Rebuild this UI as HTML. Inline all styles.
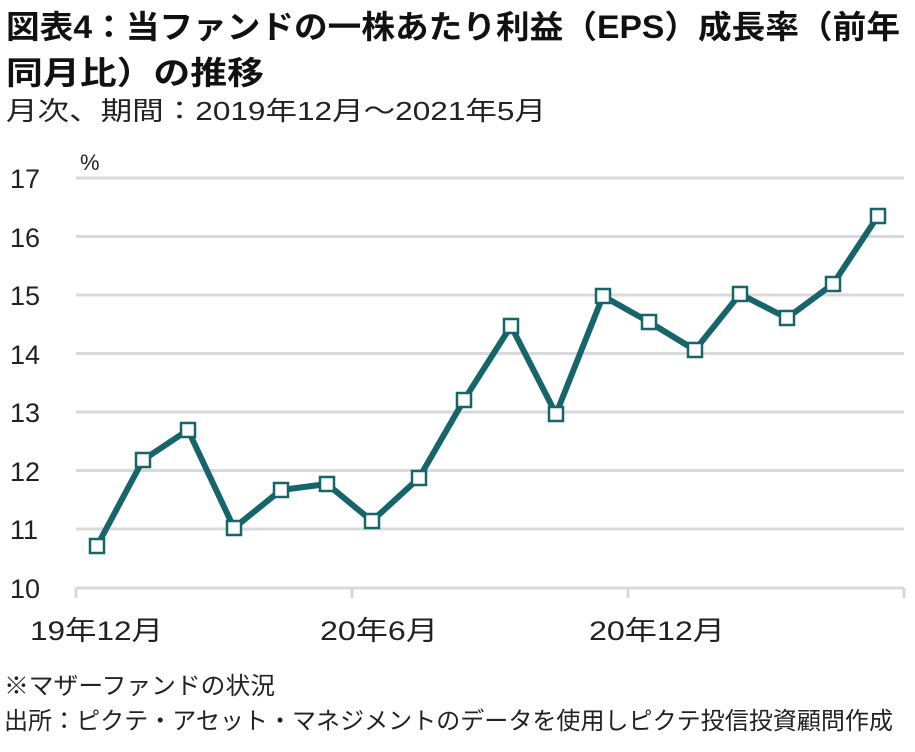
<!DOCTYPE html>
<html><head><meta charset="utf-8"><style>
body{margin:0;background:#fff;width:915px;height:747px;overflow:hidden;font-family:"Liberation Sans","Noto Sans CJK JP",sans-serif;}
</style></head><body>
<svg width="915" height="747" xmlns="http://www.w3.org/2000/svg" style="font-family:'Liberation Sans','Noto Sans CJK JP',sans-serif">
<text x="6" y="38" font-size="32" font-weight="bold" fill="#111" textLength="894" lengthAdjust="spacingAndGlyphs">図表4：当ファンドの一株あたり利益（EPS）成長率（前年</text>
<text x="6" y="84" font-size="32" font-weight="bold" fill="#111" textLength="258" lengthAdjust="spacingAndGlyphs">同月比）の推移</text>
<text x="6" y="120" font-size="26" fill="#222" textLength="540" lengthAdjust="spacingAndGlyphs">月次、期間：2019年12月～2021年5月</text>
<text x="80" y="170" font-size="22" fill="#222">%</text>
<g stroke="#d9d9d9" stroke-width="3">
<line x1="76" x2="904" y1="178" y2="178"/><line x1="76" x2="904" y1="236.5" y2="236.5"/>
<line x1="76" x2="904" y1="295" y2="295"/><line x1="76" x2="904" y1="353.5" y2="353.5"/>
<line x1="76" x2="904" y1="412" y2="412"/><line x1="76" x2="904" y1="470.5" y2="470.5"/>
<line x1="76" x2="904" y1="529" y2="529"/><line x1="76" x2="904" y1="588" y2="588"/>
<line x1="76" x2="76" y1="588" y2="598"/><line x1="352" x2="352" y1="588" y2="598"/>
<line x1="628" x2="628" y1="588" y2="598"/><line x1="904" x2="904" y1="588" y2="598"/>
</g>
<g font-size="27" fill="#222">
<text x="10" y="188">17</text><text x="10" y="247">16</text><text x="10" y="305">15</text>
<text x="10" y="364">14</text><text x="10" y="422">13</text><text x="10" y="481">12</text>
<text x="10" y="539">11</text><text x="10" y="598">10</text>
<text x="30" y="640" textLength="133" lengthAdjust="spacingAndGlyphs">19年12月</text>
<text x="320" y="640" textLength="118" lengthAdjust="spacingAndGlyphs">20年6月</text>
<text x="589" y="640" textLength="136" lengthAdjust="spacingAndGlyphs">20年12月</text>
</g>
<polyline fill="none" stroke="#16656b" stroke-width="6" stroke-linejoin="round" points="97,546 143,460 188,430 234,528 281,490 327,484 372,521 419,478 464,400 511,326 556,414 603,296 649,322 695,350 740,294 787,318 833,284 878,216"/>
<g fill="#fff" stroke="#16656b" stroke-width="2.5">
<rect x="90" y="539" width="14" height="14"/><rect x="136" y="453" width="14" height="14"/>
<rect x="181" y="423" width="14" height="14"/><rect x="227" y="521" width="14" height="14"/>
<rect x="274" y="483" width="14" height="14"/><rect x="320" y="477" width="14" height="14"/>
<rect x="365" y="514" width="14" height="14"/><rect x="412" y="471" width="14" height="14"/>
<rect x="457" y="393" width="14" height="14"/><rect x="504" y="319" width="14" height="14"/>
<rect x="549" y="407" width="14" height="14"/><rect x="596" y="289" width="14" height="14"/>
<rect x="642" y="315" width="14" height="14"/><rect x="688" y="343" width="14" height="14"/>
<rect x="733" y="287" width="14" height="14"/><rect x="780" y="311" width="14" height="14"/>
<rect x="826" y="277" width="14" height="14"/><rect x="871" y="209" width="14" height="14"/>
</g>
<text x="4" y="694" font-size="24" fill="#222" textLength="271" lengthAdjust="spacingAndGlyphs">※マザーファンドの状況</text>
<text x="4" y="729" font-size="24" fill="#222" textLength="889" lengthAdjust="spacingAndGlyphs">出所：ピクテ・アセット・マネジメントのデータを使用しピクテ投信投資顧問作成</text>
</svg>
</body></html>
